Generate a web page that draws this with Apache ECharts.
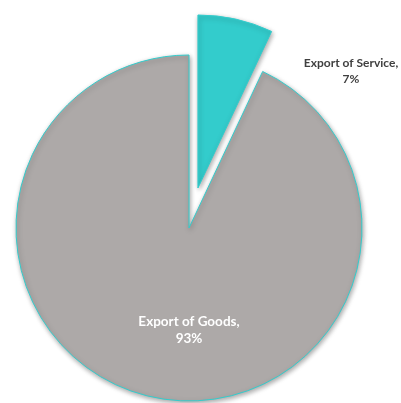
<!DOCTYPE html>
<html><head><meta charset="utf-8">
<script src="https://cdn.jsdelivr.net/npm/echarts@6/dist/echarts.min.js"></script>
<style>html,body{margin:0;padding:0;background:#fff}#c{width:401px;height:403px}</style>
</head><body><div id="c"></div>
<script>
const categories = ['Export of Service', 'Export of Goods'];
const values = [7, 93];
const colors = ['#33CCCC', '#ADA9A8'];

const chart = echarts.init(document.getElementById('c'), null, {renderer: 'canvas'});
const cx = 189, cy = 228, R = 173, explode = 41;
const total = values.reduce((a, b) => a + b, 0);
const midAng = (values[0] / total) * Math.PI; // half of service sweep, from top clockwise
const ecx = cx + explode * Math.sin(midAng), ecy = cy - explode * Math.cos(midAng);
const labelPos = [[351, 71], [189, 330]];
const baseStyle = {
  borderColor: '#33CCCC', borderWidth: 1,
  shadowBlur: 5, shadowColor: 'rgba(0,0,0,0.35)', shadowOffsetX: 1, shadowOffsetY: 2
};
const hidden = {color: 'transparent', borderWidth: 0, shadowBlur: 0, shadowColor: 'transparent'};
const labelStyles = [
  {show: true, position: 'inside', color: '#404040', fontFamily: 'Lato', fontWeight: 'bold', fontSize: 12, lineHeight: 16, formatter: '{b},\n{d}%'},
  {show: true, position: 'inside', color: '#ffffff', fontFamily: 'Lato', fontWeight: 'bold', fontSize: 13.5, lineHeight: 17, formatter: '{b},\n{d}%'}
];
function makeSeries(center, shownIdx) {
  return {
    type: 'pie', center: center, radius: R, startAngle: 90, clockwise: true,
    silent: true, emphasis: {disabled: true}, labelLine: {show: false},
    itemStyle: baseStyle,
    labelLayout: function (p) {
      return {x: labelPos[p.dataIndex][0], y: labelPos[p.dataIndex][1], align: 'center', verticalAlign: 'middle'};
    },
    data: categories.map((n, i) => ({
      name: n, value: values[i],
      itemStyle: i === shownIdx ? {color: colors[i]} : hidden,
      label: i === shownIdx ? labelStyles[i] : {show: false}
    }))
  };
}
chart.setOption({
  animation: false,
  series: [makeSeries([cx, cy], 1), makeSeries([ecx, ecy], 0)]
});
</script></body></html>
